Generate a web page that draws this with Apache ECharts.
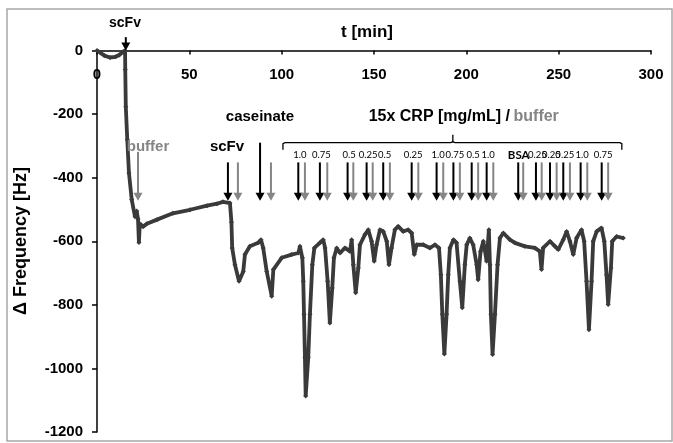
<!DOCTYPE html>
<html><head><meta charset="utf-8">
<script src="https://cdn.jsdelivr.net/npm/echarts@6/dist/echarts.min.js"></script>
<style>html,body{margin:0;padding:0;background:#fff}#c{width:673px;height:443px}</style>
</head><body><div id="c"></div>
<script>
// time [min]
const timeMin = [0,2,4,7,10,12,14,15.2,15.3,15.6,16.4,17.3,18.8,20.6,21.5,22.2,22.7,23.2,24.9,27,32.5,41.1,50.4,59.6,65,68.2,72,
72.8,73.2,74.7,76.9,79.2,80.1,82.8,87.3,88.8,90,91.9,94.6,95.5,100,105.4,109,109.9,111.2,111.7,112.1,112.6,113,114.4,115.3,116.6,117.7,120.7,122.5,123.5,124.9,126.1,127.4,128.3,129.8,131.6,134.3,137,137.9,138.8,140.1,141.5,142.4,145.1,146.9,148.7,150.1,151.4,153.2,155,156.9,158.1,159.5,161.3,163.1,165.8,168.5,170.4,171.8,173.1,176.7,180.3,183,185.2,186.2,187,188.1,189.3,190.2,191.1,193,194.7,196.5,197.8,199.2,200.2,201.9,203.7,205.6,206.4,207.7,209.2,211,212.2,212.8,213.3,214.2,215.5,216.9,218.2,220,223.6,226.3,231.7,237.1,239.8,240.7,241.6,245.3,248,249.8,252.5,254.3,256.1,257.9,259.7,262.4,263.8,265.1,266.4,267.8,268.7,270.6,273.2,274.7,275.9,276.8,278.3,279,281.4,285];
// Δ frequency [Hz]
const freqHz = [0,-8,-16,-22,-20,-14,-5,0,-60,-177,-281,-385,-469,-523,-505,-530,-604,-545,-554,-545,-532,-512,-501,-488,-482,-476,-480,
-540,-621,-674,-726,-695,-642,-616,-605,-595,-621,-695,-773,-689,-652,-642,-637,-616,-652,-726,-830,-966,-1087,-966,-830,-674,-621,-605,-595,-621,-726,-857,-747,-652,-621,-637,-621,-632,-595,-674,-762,-684,-611,-579,-564,-600,-663,-611,-564,-569,-600,-674,-621,-564,-553,-569,-564,-574,-642,-611,-611,-621,-611,-621,-705,-830,-955,-830,-705,-621,-595,-605,-726,-809,-674,-611,-590,-611,-674,-721,-632,-600,-663,-564,-674,-830,-956,-830,-674,-590,-574,-595,-605,-616,-621,-632,-689,-621,-600,-616,-626,-595,-569,-600,-642,-590,-564,-600,-726,-878,-726,-600,-569,-558,-600,-705,-799,-684,-600,-585,-590];
const xTicks = [0,50,100,150,200,250,300];
const yTicks = [0,-200,-400,-600,-800,-1000,-1200];
// injection arrows (time in min)
const blackArrowT = [70.9,88.3,109,120.7,135.7,146,155,170.4,183.9,193,202.9,211,228.1,237.7,245.3,252.5,261.9,273.3];
const grayArrowT = [22.2,76.3,94.2,112.6,124.7,138.8,149.3,158.6,174,187.5,196.5,206.4,214.6,230.8,240.8,248.9,256.1,265.5,276.8];
const concLabels = ['1.0','0.75','0.5','0.25','0.5','0.25','1.0','0.75','0.5','1.0','BSA','0.25','0.25','0.25','1.0','0.75'];
const scFvStartT = 15.6;
const bracketT = [100.7,192.7,284.2];

const data = timeMin.map((t,i)=>[t,freqHz[i]]);
const FONT = "'Liberation Sans', Arial, sans-serif";
const chart = echarts.init(document.getElementById('c'), null, {renderer:'canvas'});
chart.setOption({
  animation:false,
  grid:{left:97,right:22,top:50.5,bottom:11,containLabel:false,outerBoundsMode:'none'},
  xAxis:{type:'value',min:xTicks[0],max:xTicks[xTicks.length-1],interval:50,position:'top',
    axisLine:{onZero:false,lineStyle:{color:'#000',width:1.5}},
    axisTick:{show:true,inside:true,length:4,lineStyle:{color:'#000',width:1.5}},
    axisLabel:{inside:true,margin:17,fontFamily:FONT,fontWeight:'bold',fontSize:15,color:'#000',formatter:v=>String(v)},
    splitLine:{show:false}},
  yAxis:{type:'value',min:yTicks[yTicks.length-1],max:yTicks[0],interval:200,
    axisLine:{show:true,onZero:false,lineStyle:{color:'#000',width:1.5}},
    axisTick:{show:true,length:5,lineStyle:{color:'#000',width:1.5}},
    axisLabel:{margin:14,fontFamily:FONT,fontWeight:'bold',fontSize:15,color:'#000',formatter:v=>String(v)},
    splitLine:{show:false}},
  series:[{type:'line',data:data,symbol:'diamond',symbolSize:5,showAllSymbol:true,
    lineStyle:{color:'#3a3a3a',width:3.8},itemStyle:{color:'#3a3a3a'},z:3}]
});

const px = (t,v)=>chart.convertToPixel({gridIndex:0},[t,v]);
const G = [];
function arrow(t, topV, tipV, color){
  const a = px(t, topV), b = px(t, tipV);
  const x = a[0];
  G.push({type:'line',shape:{x1:x,y1:a[1],x2:x,y2:b[1]-7},style:{stroke:color,lineWidth:2},z:10});
  G.push({type:'polygon',shape:{points:[[x-4.5,b[1]-8],[x+4.5,b[1]-8],[x,b[1]]]},style:{fill:color},z:10});
}
function text(x,y,s,opts){
  G.push({type:'text',x:x,y:y,z:11,style:Object.assign({text:s,textAlign:'center',textVerticalAlign:'middle',fill:'#000',font:'bold 15px '+FONT},opts||{})});
}
const BLACK='#000', GRAY='#858585';
const TIP=-473;
arrow(scFvStartT, 42, 0, BLACK);
blackArrowT.forEach((t,i)=>{
  const top = (i===1)? -290 : -352;
  arrow(t, top, TIP, BLACK);
});
grayArrowT.forEach((t,i)=>{
  const top = (i===0)? -319 : -352;
  arrow(t, top, TIP, GRAY);
});
// bracket
const b0=px(bracketT[0],-290), b1=px(bracketT[1],-290), b2=px(bracketT[2],-290);
const hook = 7;
G.push({type:'polyline',shape:{points:[[b0[0],b0[1]+hook],[b0[0],b0[1]+1],[b0[0]+2,b0[1]],[b1[0]-2,b1[1]],[b1[0],b1[1]-1],[b1[0],b1[1]-8],[b1[0],b1[1]-1],[b1[0]+2,b1[1]],[b2[0]-2,b2[1]],[b2[0],b2[1]+1],[b2[0],b2[1]+hook]]},style:{stroke:'#000',lineWidth:1.3,fill:null},z:10});
concLabels.forEach((s,i)=>{
  const p = px(blackArrowT[i+2]+0.8, -330);
  if(s==='BSA') text(p[0]-1, p[1], s, {font:"bold 11.5px Lato, 'Open Sans', sans-serif"});
  else text(p[0], p[1], s, {font:"9.5px Lato, 'Open Sans', sans-serif"});
});
text(367, 32, 't [min]', {font:'bold 17px '+FONT});
text(125, 23, 'scFv', {font:'bold 14px '+FONT});
text(148, 147, 'buffer', {font:'bold 15px '+FONT, fill:GRAY});
text(227, 147, 'scFv', {font:'bold 15px '+FONT});
text(260, 117, 'caseinate', {font:'bold 15px '+FONT});
text(510, 117, '15x CRP [mg/mL] /', {font:'bold 16px '+FONT, textAlign:'right'});
text(513.5, 117, 'buffer', {font:'bold 16px '+FONT, textAlign:'left', fill:GRAY});
G.push({type:'text',x:21,y:241,rotation:Math.PI/2,z:11,style:{text:'Δ Frequency [Hz]',font:'bold 18px '+FONT,fill:'#000',textAlign:'center',textVerticalAlign:'middle'}});
G.push({type:'rect',shape:{x:7,y:9,width:665,height:432},style:{fill:null,stroke:'#a8a8a8',lineWidth:1.5},z:0});
chart.setOption({graphic:{elements:G}});
</script></body></html>
